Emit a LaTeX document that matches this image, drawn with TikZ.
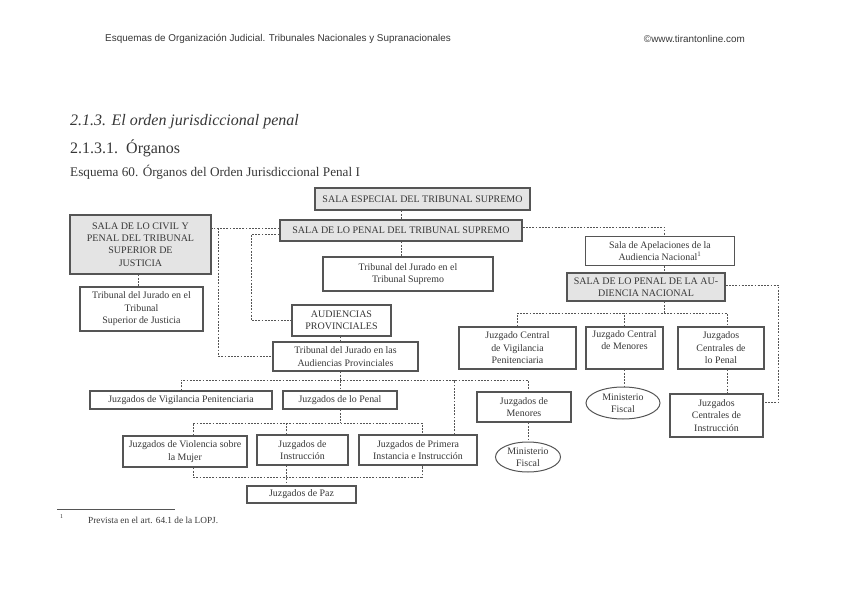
\documentclass[tikz,border=0pt]{standalone}
\usepackage{fontspec}
\setmainfont{Liberation Serif}
\newfontfamily\headfont{Liberation Sans}
\usetikzlibrary{shapes.geometric}
\definecolor{boxgray}{RGB}{228,228,228}
\definecolor{edgegray}{RGB}{85,85,85}
\definecolor{inkgray}{RGB}{55,55,55}

\begin{document}
\begin{tikzpicture}[
    x=1pt, y=-1pt,
    box/.style={draw=edgegray, line width=1.1pt, fill=white, text=inkgray, align=center,
        inner sep=1pt, font=\fontsize{9.9}{12.4}\selectfont},
    head/.style={box, fill=boxgray, line width=1.4pt, font=\fontsize{10}{12.4}\selectfont},
    fiscal/.style={ellipse, draw=edgegray, line width=1pt, text=inkgray, align=center,
        inner sep=0pt, font=\fontsize{9.9}{12.4}\selectfont},
    link/.style={draw=edgegray, line width=0.8pt, dash pattern=on 1.8pt off 1.4pt},
    txt/.style={anchor=west, inner sep=0pt, text=inkgray}
]
\useasboundingbox (0,0) rectangle (848,601);

% cabecera y titulos
\node[txt, font=\headfont\fontsize{9.9}{11}\selectfont] (cab) at (105,39)
    {Esquemas de Organización Judicial. Tribunales Nacionales y Supranacionales};
\node[txt, anchor=east, font=\headfont\fontsize{9.9}{11}\selectfont] (web) at (745,39)
    {©www.tirantonline.com};
\node[txt, font=\itshape\fontsize{16}{18}\selectfont] (tit) at (70,122) {2.1.3. El orden jurisdiccional penal};
\node[txt, font=\fontsize{16}{18}\selectfont] (sub) at (70,148) {2.1.3.1.\ \ Órganos};
\node[txt, font=\fontsize{13.2}{15}\selectfont] (esq) at (70,172) {Esquema 60. Órganos del Orden Jurisdiccional Penal I};

% organos
\node[head, minimum width=215, minimum height=22] (especial) at (422.5,199) {SALA ESPECIAL DEL TRIBUNAL SUPREMO};
\node[head, minimum width=242, minimum height=21] (penalts) at (401,230.5) {SALA DE LO PENAL DEL TRIBUNAL SUPREMO};
\node[head, minimum width=141, minimum height=59] (civil) at (140.5,244.5) {SALA DE LO CIVIL Y\\PENAL DEL TRIBUNAL\\SUPERIOR DE\\JUSTICIA};
\node[box, minimum width=123, minimum height=44] (jurtsj) at (141.5,309) {Tribunal del Jurado en el\\Tribunal\\Superior de Justicia};
\node[box, minimum width=170, minimum height=34] (jurts) at (408,274) {Tribunal del Jurado en el\\Tribunal Supremo};
\node[box, minimum width=149, minimum height=29] (apel) at (660,251) {Sala de Apelaciones de la\\Audiencia Nacional\textsuperscript{1}};
\node[head, minimum width=158, minimum height=28] (penalan) at (646,287) {SALA DE LO PENAL DE LA AU-\\DIENCIA NACIONAL};
\node[box, line width=1.3pt, minimum width=99, minimum height=31, font=\fontsize{10}{12.4}\selectfont] (audprov) at (341.5,320.5) {AUDIENCIAS\\PROVINCIALES};
\node[box, minimum width=145, minimum height=29] (jurap) at (345.5,356.5) {Tribunal del Jurado en las\\Audiencias Provinciales};
\node[box, minimum width=117, minimum height=42] (jcvp) at (517.5,348) {Juzgado Central\\de Vigilancia\\Penitenciaria};
\node[box, minimum width=77, minimum height=42] (jcm) at (624.5,348) {Juzgado Central\\de Menores\\\strut};
\node[box, minimum width=86, minimum height=42] (jcp) at (721,348) {Juzgados\\Centrales de\\lo Penal};
\node[fiscal, minimum width=74, minimum height=32] (mfan) at (623,403) {Ministerio\\Fiscal};
\node[box, minimum width=93, minimum height=43] (jci) at (716.5,415.5) {Juzgados\\Centrales de\\Instrucción};
\node[box, minimum width=94, minimum height=30] (jmen) at (524,407) {Juzgados de\\Menores};
\node[fiscal, minimum width=65, minimum height=30] (mfmen) at (528,457) {Ministerio\\Fiscal};
\node[box, minimum width=182, minimum height=18] (jvp) at (181,400) {Juzgados de Vigilancia Penitenciaria};
\node[box, minimum width=114, minimum height=18] (jpen) at (340,400) {Juzgados de lo Penal};
\node[box, minimum width=124, minimum height=31] (jvsm) at (185,451.5) {Juzgados de Violencia sobre\\la Mujer};
\node[box, minimum width=91, minimum height=30] (jins) at (302.5,450) {Juzgados de\\Instrucción};
\node[box, minimum width=118, minimum height=30] (jpii) at (418,450) {Juzgados de Primera\\Instancia e Instrucción};
\node[box, minimum width=109, minimum height=17] (jpaz) at (301.5,494.5) {Juzgados de Paz};

% buses
\coordinate (anbus) at (664,313);
\coordinate (apbus) at (340,380);
\coordinate (penbus) at (340,423);
\coordinate (pazbus) at (286.5,477);

% conexiones
\draw[link] (especial.south -| penalts.north) -- (penalts.north);
\draw[link] (penalts.south) -- (penalts.south |- jurts.north);
\draw[link] ([yshift=2.5pt]penalts.west) -- ([yshift=2.5pt]penalts.west -| civil.east);
\draw[link] ([xshift=7pt,yshift=2.5pt]civil.east |- penalts.west) |- (jurap.west);
\draw[link] ([yshift=-3.5pt]penalts.west) -- ++(-28,0) |- (audprov.west);
\draw[link] ([xshift=-2.5pt]civil.south) -- ([xshift=-2.5pt]civil.south |- jurtsj.north);
\draw[link] ([yshift=3.5pt]penalts.east) -| ([xshift=4pt]apel.north);
\draw[link] ([xshift=4pt]apel.south) -- ([xshift=4pt]apel.south |- penalan.north);
\draw[link] ([yshift=2pt]penalan.east) -| ([xshift=15pt,yshift=13pt]jci.east) -- ([yshift=13pt]jci.east);
\draw[link] ([xshift=18pt]penalan.south) -- (anbus);
\draw[link] (jcvp.north) |- (anbus) -| ([xshift=6pt]jcp.north);
\draw[link] (jcm.north) -- (jcm.north |- anbus);
\draw[link] (jcm.south) -- (jcm.south |- mfan.north);
\draw[link] ([xshift=6pt]jcp.south) -- ([xshift=6pt]jcp.south |- jci.north);
\draw[link] (audprov.south -| jpen.north) -- (jurap.north -| jpen.north);
\draw[link] (jurap.south -| jpen.north) -- (jpen.north);
\draw[link] (jvp.north) |- (apbus) -| ([xshift=4pt]jmen.north);
\draw[link] ([xshift=36pt]jpii.north) -- ([xshift=36pt]jpii.north |- apbus);
\draw[link] ([xshift=4pt]jmen.south) -- ([xshift=4pt]jmen.south |- mfmen.north);
\draw[link] (jpen.south) -- (penbus);
\draw[link] ([xshift=8pt]jvsm.north) |- (penbus) -| ([xshift=4pt]jpii.north);
\draw[link] ([xshift=-16pt]jins.north) -- ([xshift=-16pt]jins.north |- penbus);
\draw[link] ([xshift=8pt]jvsm.south) |- (pazbus) -| ([xshift=4pt]jpii.south);
\draw[link] ([xshift=-16pt]jins.south) -- ([xshift=-16pt]jins.south |- jpaz.north);

% nota al pie
\draw[edgegray, line width=0.6pt] (57,509) -- (175,509);
\node[txt, font=\fontsize{6}{7}\selectfont] (marca) at (60,517) {1};
\node[txt, font=\fontsize{9.3}{10}\selectfont] (nota) at (88,520) {Prevista en el art. 64.1 de la LOPJ.};
\end{tikzpicture}
\end{document}
